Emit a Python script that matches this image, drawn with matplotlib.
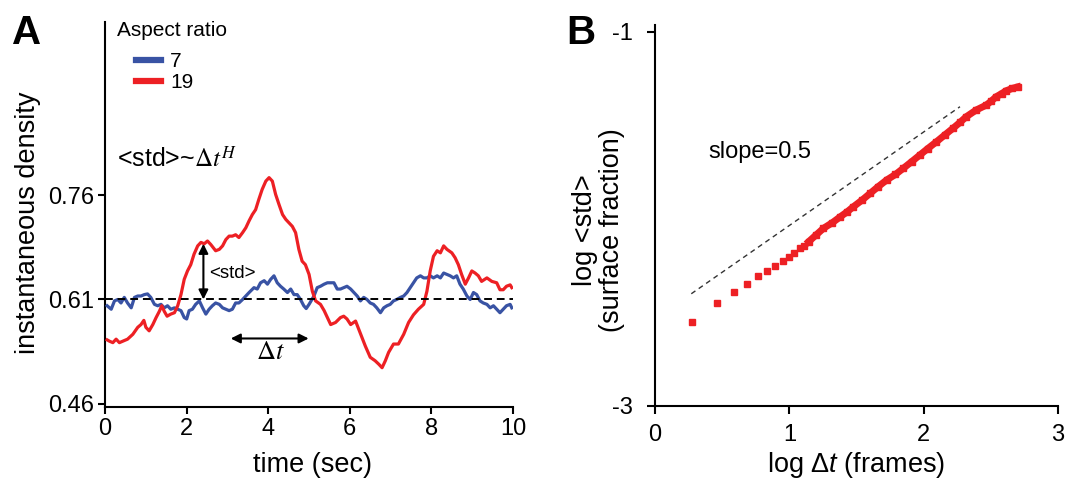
import numpy as np
import matplotlib
matplotlib.use('Agg')
import matplotlib.pyplot as plt

plt.rcParams['font.family'] = ['Liberation Sans', 'DejaVu Sans']
plt.rcParams['mathtext.fontset'] = 'custom'
plt.rcParams['mathtext.rm'] = 'Liberation Sans'
plt.rcParams['mathtext.it'] = 'Liberation Sans:italic'
plt.rcParams['axes.unicode_minus'] = False

# instantaneous density, aspect ratio 19
t_red = [0.05, 0.11, 0.19, 0.27, 0.35, 0.43, 0.55, 0.68, 0.80, 0.88, 0.95, 1.00, 1.08, 1.17, 1.25,
         1.33, 1.39, 1.45, 1.52, 1.61, 1.70, 1.78, 1.86, 1.94, 2.02, 2.10, 2.18, 2.27, 2.35, 2.43,
         2.51, 2.59, 2.71, 2.80, 2.88, 2.96, 3.04, 3.12, 3.20, 3.28, 3.37, 3.45, 3.53, 3.61, 3.69,
         3.77, 3.85, 3.94, 4.02, 4.10, 4.18, 4.26, 4.35, 4.43, 4.51, 4.59, 4.67, 4.75, 4.83, 4.91,
         5.00, 5.08, 5.16, 5.28, 5.37, 5.45, 5.53, 5.65, 5.77, 5.85, 5.93, 6.02, 6.14, 6.22, 6.30,
         6.38, 6.50, 6.62, 6.71, 6.79, 6.87, 6.95, 7.07, 7.19, 7.32, 7.44, 7.56, 7.68, 7.81, 7.89,
         7.97, 8.05, 8.14, 8.22, 8.30, 8.38, 8.50, 8.58, 8.66, 8.74, 8.83, 8.91, 8.99, 9.07, 9.15,
         9.23, 9.36, 9.48, 9.60, 9.68, 9.76, 9.84, 9.93, 9.97]
d_red = [.552, .550, .548, .553, .548, .550, .553, .560, .570, .574, .580, .570, .565, .574, .584,
         .593, .601, .593, .586, .589, .591, .601, .617, .639, .651, .660, .675, .687, .692, .690,
         .694, .689, .680, .682, .687, .696, .701, .701, .703, .699, .706, .713, .723, .732, .739,
         .754, .768, .780, .785, .780, .761, .747, .732, .725, .720, .715, .706, .682, .665, .660,
         .646, .622, .608, .603, .594, .584, .574, .577, .584, .586, .582, .574, .579, .567, .555,
         .543, .527, .522, .517, .512, .522, .534, .546, .546, .560, .577, .588, .596, .603, .622,
         .651, .672, .680, .677, .687, .682, .677, .670, .660, .646, .632, .641, .651, .648, .644,
         .636, .641, .636, .634, .624, .624, .629, .631, .627]

# instantaneous density, aspect ratio 7
t_blue = [0.05, 0.15, 0.23, 0.31, 0.39, 0.47, 0.55, 0.64, 0.72, 0.80, 0.88, 0.96, 1.04, 1.12, 1.21,
          1.29, 1.37, 1.45, 1.53, 1.61, 1.70, 1.78, 1.86, 1.94, 2.00, 2.06, 2.14, 2.22, 2.31, 2.39,
          2.47, 2.55, 2.63, 2.71, 2.80, 2.88, 2.96, 3.04, 3.12, 3.20, 3.28, 3.37, 3.45, 3.53, 3.65,
          3.73, 3.81, 3.90, 3.98, 4.06, 4.14, 4.22, 4.30, 4.38, 4.47, 4.55, 4.63, 4.71, 4.79, 4.87,
          4.93, 5.00, 5.12, 5.20, 5.28, 5.37, 5.45, 5.53, 5.61, 5.69, 5.77, 5.85, 5.93, 6.02, 6.10,
          6.18, 6.26, 6.34, 6.42, 6.50, 6.58, 6.66, 6.75, 6.83, 6.91, 6.99, 7.07, 7.15, 7.24, 7.32,
          7.40, 7.48, 7.56, 7.64, 7.73, 7.81, 7.89, 7.97, 8.05, 8.14, 8.22, 8.30, 8.38, 8.46, 8.54,
          8.62, 8.70, 8.78, 8.87, 8.95, 9.03, 9.11, 9.19, 9.27, 9.36, 9.44, 9.52, 9.60, 9.68, 9.76,
          9.84, 9.93, 9.97]
d_blue = [.601, .596, .608, .610, .605, .613, .605, .598, .613, .615, .615, .617, .618, .613, .603,
          .601, .603, .598, .601, .596, .598, .596, .594, .584, .582, .594, .596, .603, .608, .598,
          .589, .596, .601, .605, .603, .598, .596, .594, .596, .605, .605, .610, .615, .620, .627,
          .625, .634, .637, .632, .639, .644, .634, .629, .625, .620, .625, .617, .617, .610, .601,
          .597, .603, .615, .627, .629, .632, .634, .634, .634, .625, .625, .627, .629, .625, .620,
          .615, .608, .613, .610, .605, .603, .598, .591, .598, .601, .603, .608, .610, .613, .615,
          .620, .627, .634, .641, .644, .641, .641, .644, .641, .644, .641, .648, .646, .644, .641,
          .644, .632, .625, .615, .610, .620, .617, .608, .605, .603, .598, .601, .596, .591, .596,
          .601, .603, .598]
mean_density = 0.61

# log <std> against log lag
log_dt = [0.275, 0.46, 0.585, 0.685, 0.765, 0.835, 0.89, 0.95, 0.995, 1.037, 1.076, 1.111, 1.143,
          1.20, 1.254, 1.32, 1.378, 1.43, 1.476, 1.54, 1.60, 1.66, 1.724, 1.79, 1.847, 1.91, 1.97,
          2.03, 2.094, 2.155, 2.217, 2.27, 2.316, 2.39, 2.464, 2.50, 2.539, 2.58, 2.613, 2.66, 2.70]
log_std = [-2.553, -2.451, -2.393, -2.348, -2.307, -2.279, -2.250, -2.225, -2.205, -2.181, -2.157,
           -2.143, -2.122, -2.085, -2.050, -2.020, -1.989, -1.962, -1.935, -1.900, -1.864, -1.828,
           -1.792, -1.762, -1.730, -1.694, -1.659, -1.624, -1.588, -1.552, -1.516, -1.484, -1.454,
           -1.418, -1.392, -1.372, -1.347, -1.330, -1.315, -1.302, -1.294]
slope = 0.5
guide_dt = [0.27, 2.27]
guide_mid = (1.27, -1.90)

blue = '#3953a4'
red = '#ed2024'

fig = plt.figure(figsize=(10.67, 4.84), dpi=100)

# ---- panel A
ax = fig.add_axes([0.0985, 0.1597, 0.3823, 0.7955])
ax.plot(t_blue, d_blue, color=blue, lw=2.3, label='7', zorder=3)
ax.plot(t_red, d_red, color=red, lw=2.3, label='19', zorder=3)
ax.plot([0, 10], [mean_density, mean_density], color='k', lw=1.4, dashes=(4, 2.5), zorder=4)
ax.set_xlim(0, 10)
ax.set_ylim(0.456, 1.009)
ax.set_xticks([0, 2, 4, 6, 8, 10])
ax.set_yticks([0.46, 0.61, 0.76])
ax.set_yticklabels(['0.46', '0.61', '0.76'])
for s in ['top', 'right']:
    ax.spines[s].set_visible(False)
for s in ['left', 'bottom']:
    ax.spines[s].set_linewidth(1.5)
ax.tick_params(direction='out', length=5, width=1.5, labelsize=17, pad=3)
ax.text(-0.19, 0.477, 'instantaneous density', transform=ax.transAxes, rotation=90,
        ha='center', va='center', fontsize=19.5)
ax.text(0.508, -0.151, 'time (sec)', transform=ax.transAxes, ha='center', va='center', fontsize=19.5)

ax.text(0.03, 0.978, 'Aspect ratio', transform=ax.transAxes, ha='left', va='center', fontsize=15)
leg = ax.legend(loc='upper left', bbox_to_anchor=(0.075, 0.92), frameon=False, fontsize=15,
                handlelength=1.2, handletextpad=0.45, labelspacing=0.08, borderpad=0, borderaxespad=0)
for l in leg.get_lines():
    l.set_linewidth(4.5)

ax.text(0.29, 0.80, r'<std>~$\Delta t^{H}$', fontsize=18, ha='left', va='baseline',
        math_fontfamily='stix')
ax.annotate('', xy=(2.41, 0.69), xytext=(2.41, mean_density),
            arrowprops=dict(arrowstyle='<|-|>', color='k', lw=1.5, mutation_scale=14,
                            shrinkA=0, shrinkB=0), zorder=5)
ax.text(2.55, 0.647, '<std>', fontsize=13.5, ha='left', va='center')
ax.annotate('', xy=(3.08, 0.554), xytext=(4.99, 0.554),
            arrowprops=dict(arrowstyle='<|-|>', color='k', lw=1.5, mutation_scale=14,
                            shrinkA=0, shrinkB=0), zorder=5)
ax.text(4.06, 0.534, r'$\Delta t$', fontsize=19, ha='center', va='center', math_fontfamily='stix')

# ---- panel B
bx = fig.add_axes([0.6139, 0.1612, 0.3777, 0.7872])
bx.plot(log_dt[12:], log_std[12:], color=red, lw=5, zorder=3)
bx.plot(log_dt, log_std, ls='none', marker='s', ms=4.2, color=red, mec=red, zorder=3)
guide_std = [guide_mid[1] + slope * (x - guide_mid[0]) for x in guide_dt]
bx.plot(guide_dt, guide_std, color='#333333', lw=1.0, dashes=(3.6, 2.9), zorder=2)
bx.set_xlim(0, 3)
bx.set_ylim(-3, -0.963)
bx.set_xticks([0, 1, 2, 3])
bx.set_yticks([-3, -1])
bx.set_yticklabels(['-3', '-1'])
for s in ['top', 'right']:
    bx.spines[s].set_visible(False)
for s in ['left', 'bottom']:
    bx.spines[s].set_linewidth(1.5)
bx.tick_params(direction='out', length=6, width=1.5, labelsize=17)
bx.tick_params(axis='y', pad=10)
bx.tick_params(axis='x', pad=7)
bx.text(-0.14, 0.462, 'log <std>\n(surface fraction)', transform=bx.transAxes, rotation=90,
        ha='center', va='center', fontsize=19.5, linespacing=1.05)
bx.text(0.50, -0.155, r'log $\Delta$$t$ (frames)', transform=bx.transAxes, ha='center',
        va='center', fontsize=19.5)
bx.text(0.40, -1.642, 'slope=0.5', fontsize=17, ha='left', va='center')

fig.text(0.011, 0.972, 'A', fontsize=29, fontweight='bold', ha='left', va='top')
fig.text(0.531, 0.972, 'B', fontsize=29, fontweight='bold', ha='left', va='top')

fig.savefig('out.png', dpi=100)
